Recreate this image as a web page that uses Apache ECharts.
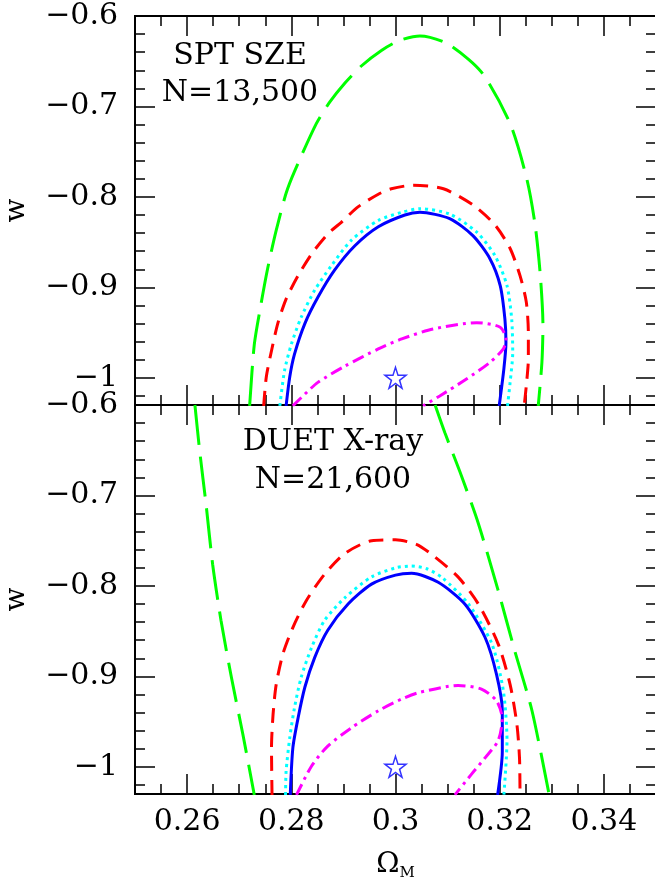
<!DOCTYPE html>
<html>
<head>
<meta charset="utf-8">
<script src="https://cdn.jsdelivr.net/npm/echarts@6/dist/echarts.min.js"></script>
<style>
html,body{margin:0;padding:0;background:#fff;}
#chart{width:655px;height:880px;}
</style>
</head>
<body>
<div id="chart"></div>
<script>
// ---------- data ----------
var xMajorTicks = [0.26, 0.28, 0.30, 0.32, 0.34];
var yMajorTicks = [-1.0, -0.9, -0.8, -0.7, -0.6];
var yMinorTicks = [-1.02, -1.0, -0.98, -0.96, -0.94, -0.92, -0.9, -0.88, -0.86, -0.84, -0.82, -0.8,
                   -0.78, -0.76, -0.74, -0.72, -0.7, -0.68, -0.66, -0.64, -0.62];
var panelTitles = [["SPT SZE", "N=13,500"], ["DUET X-ray", "N=21,600"]];
var fiducial = [0.30, -1.0];

// SPT SZE panel (top)
var sptGreen = [[0.2720,-1.031],[0.2729,-0.963],[0.2742,-0.918],[0.2755,-0.878],[0.2771,-0.837],
  [0.2790,-0.796],[0.2806,-0.772],[0.2848,-0.719],[0.2874,-0.695],[0.2903,-0.674],[0.2935,-0.655],
  [0.2973,-0.638],[0.3008,-0.627],[0.3047,-0.622],[0.3101,-0.631],[0.3165,-0.662],[0.3220,-0.719],
  [0.3252,-0.780],[0.3268,-0.831],[0.3278,-0.887],[0.3283,-0.942],[0.3281,-0.983],[0.3274,-1.031]];
var sptRed = [[0.2747,-1.031],[0.2752,-0.999],[0.2762,-0.970],[0.2774,-0.940],[0.2790,-0.913],
  [0.2813,-0.887],[0.2839,-0.863],[0.2870,-0.841],[0.2896,-0.828],[0.2928,-0.811],[0.2967,-0.797],
  [0.2992,-0.791],[0.3034,-0.787],[0.3092,-0.791],[0.3149,-0.809],[0.3191,-0.831],[0.3220,-0.857],
  [0.3239,-0.887],[0.3251,-0.916],[0.3255,-0.950],[0.3255,-0.979],[0.3251,-1.009],[0.3247,-1.031]];
var sptCyan = [[0.2778,-1.031],[0.2787,-0.992],[0.2800,-0.963],[0.2819,-0.933],[0.2845,-0.903],
  [0.2877,-0.876],[0.2915,-0.848],[0.2967,-0.826],[0.3012,-0.817],[0.3047,-0.813],[0.3104,-0.819],
  [0.3156,-0.839],[0.3191,-0.865],[0.3214,-0.898],[0.3223,-0.935],[0.3225,-0.972],[0.3220,-1.005],
  [0.3215,-1.031]];
var sptBlue = [[0.2790,-1.031],[0.2797,-0.999],[0.2806,-0.974],[0.2826,-0.940],[0.2851,-0.911],
  [0.2883,-0.881],[0.2922,-0.854],[0.2967,-0.833],[0.3018,-0.820],[0.3047,-0.817],[0.3104,-0.824],
  [0.3149,-0.843],[0.3181,-0.868],[0.3201,-0.898],[0.3210,-0.935],[0.3212,-0.961],[0.3208,-0.990],
  [0.3199,-1.031]];
var sptMagenta = [[0.2803,-1.031],[0.2826,-1.018],[0.2851,-1.005],[0.2903,-0.987],[0.2967,-0.968],
  [0.3012,-0.957],[0.3072,-0.946],[0.3156,-0.939],[0.3201,-0.944],[0.3212,-0.957],[0.3207,-0.968],
  [0.3181,-0.983],[0.3137,-1.001],[0.3085,-1.020],[0.3053,-1.031]];

// DUET X-ray panel (bottom)
var duetGreenLeft = [[0.2615,-0.600],[0.2624,-0.650],[0.2637,-0.713],[0.2649,-0.776],[0.2665,-0.838],
  [0.2685,-0.901],[0.2707,-0.964],[0.2729,-1.031]];
var duetGreenRight = [[0.3076,-0.600],[0.3095,-0.631],[0.3127,-0.679],[0.3159,-0.731],[0.3197,-0.805],
  [0.3229,-0.872],[0.3262,-0.938],[0.3295,-1.031]];
var duetRed = [[0.2763,-1.031],[0.2762,-0.979],[0.2765,-0.942],[0.2771,-0.909],[0.2784,-0.875],
  [0.2803,-0.846],[0.2829,-0.816],[0.2864,-0.787],[0.2903,-0.764],[0.2954,-0.750],[0.3000,-0.749],
  [0.3040,-0.754],[0.3069,-0.765],[0.3120,-0.790],[0.3159,-0.820],[0.3197,-0.864],[0.3220,-0.909],
  [0.3233,-0.953],[0.3238,-0.990],[0.3239,-1.031]];
var duetCyan = [[0.2789,-1.031],[0.2790,-1.005],[0.2797,-0.968],[0.2806,-0.935],[0.2819,-0.901],
  [0.2839,-0.868],[0.2864,-0.838],[0.2903,-0.813],[0.2954,-0.790],[0.3000,-0.780],[0.3030,-0.778],
  [0.3060,-0.781],[0.3090,-0.791],[0.3140,-0.820],[0.3185,-0.864],[0.3207,-0.916],[0.3214,-0.971],
  [0.3208,-1.031]];
var duetBlue = [[0.2798,-1.031],[0.2803,-0.979],[0.2813,-0.946],[0.2826,-0.912],[0.2845,-0.879],
  [0.2870,-0.849],[0.2909,-0.820],[0.2954,-0.798],[0.3000,-0.788],[0.3031,-0.786],[0.3082,-0.796],
  [0.3133,-0.820],[0.3172,-0.857],[0.3194,-0.898],[0.3205,-0.938],[0.3205,-0.983],[0.3196,-1.031]];
var duetMagenta = [[0.2810,-1.031],[0.2839,-0.999],[0.2870,-0.977],[0.2915,-0.957],[0.2967,-0.938],
  [0.3012,-0.925],[0.3044,-0.918],[0.3120,-0.910],[0.3165,-0.914],[0.3194,-0.927],[0.3205,-0.947],
  [0.3197,-0.971],[0.3172,-0.990],[0.3146,-1.008],[0.3114,-1.031]];

// ---------- chart ----------
var FONT = 'DejaVu Serif';
var X_MIN = 0.25, X_MAX = 0.35, Y_MIN = -1.03, Y_MAX = -0.6;

function fmtNum(v) {
  var s = String(Math.round(v * 100) / 100);
  return s.replace('-', '\u2212');
}

var grids = [
  {left: 135, top: 16, width: 521, height: 389},
  {left: 135, top: 405, width: 521, height: 389}
].map(function (g) {
  return Object.assign({show: true, borderColor: '#000', borderWidth: 2, backgroundColor: 'transparent',
    containLabel: false, outerBoundsMode: 'none'}, g);
});

var xAxes = [], yAxes = [];
function xAxis(gi, pos, major, labels) {
  var ax = {type: 'value', gridIndex: gi, position: pos, min: X_MIN, max: X_MAX,
    axisLine: {show: false}, splitLine: {show: false},
    axisTick: {show: true, inside: true, length: major ? 20 : 10, lineStyle: {color: '#000', width: 1.5}},
    axisLabel: {show: false}};
  if (major) {
    ax.axisTick.customValues = xMajorTicks;
    ax.axisLabel = {show: !!labels, customValues: xMajorTicks, fontFamily: FONT, fontSize: 30, color: '#000',
      margin: 13, formatter: fmtNum};
    if (labels) {
      ax.name = '{a|\u03A9}{b|M}';
      ax.nameLocation = 'middle';
      ax.nameGap = 54;
      ax.nameTextStyle = {rich: {a: {fontFamily: FONT, fontSize: 28, color: '#000'},
        b: {fontFamily: FONT, fontSize: 15, color: '#000', padding: [18, 0, 0, 0]}}};
    }
  } else {
    ax.interval = 0.005;
  }
  xAxes.push(ax);
}
function yAxis(gi, pos, major, labels) {
  var ax = {type: 'value', gridIndex: gi, position: pos, min: Y_MIN, max: Y_MAX,
    axisLine: {show: false}, splitLine: {show: false},
    axisTick: {show: true, inside: true, length: major ? 20 : 10, lineStyle: {color: '#000', width: 1.5},
      customValues: major ? yMajorTicks : yMinorTicks},
    axisLabel: {show: false}};
  if (major && labels) {
    ax.axisLabel = {show: true, customValues: yMajorTicks, fontFamily: FONT, fontSize: 30, color: '#000',
      margin: 17, formatter: fmtNum};
    ax.name = 'w';
    ax.nameLocation = 'middle';
    ax.nameGap = 104;
    ax.nameTextStyle = {fontFamily: FONT, fontSize: 28, color: '#000'};
  }
  yAxes.push(ax);
}
for (var g = 0; g < 2; g++) {
  xAxis(g, 'bottom', true, g === 1);
  xAxis(g, 'bottom', false);
  xAxis(g, 'top', true, false);
  xAxis(g, 'top', false);
  yAxis(g, 'left', true, true);
  yAxis(g, 'left', false);
  yAxis(g, 'right', true, false);
  yAxis(g, 'right', false);
}

function line(data, gi, color, dash, width) {
  return {type: 'line', xAxisIndex: gi * 4, yAxisIndex: gi * 4, data: data, smooth: 0.25,
    showSymbol: false, symbol: 'none', clip: true, animation: false, silent: true,
    lineStyle: {color: color, width: width || 3, type: dash, cap: 'butt'}, z: 3};
}
var LONG = [40, 12], SHORT = [15, 9], DOT = [3, 4], DASHDOT = [12, 5, 3, 5];
var starPath = 'path://M50,2 L61.8,37.6 L99,37.6 L69,59.6 L80.3,95.4 L50,73.4 L19.7,95.4 L31,59.6 L1,37.6 L38.2,37.6 Z';

var series = [
  line(sptGreen, 0, '#00ff00', LONG),
  line(sptRed, 0, '#ff0000', SHORT),
  line(sptCyan, 0, '#00ffff', DOT),
  line(sptBlue, 0, '#0000ff', 'solid'),
  line(sptMagenta, 0, '#ff00ff', DASHDOT),
  line(duetGreenLeft, 1, '#00ff00', LONG),
  line(duetGreenRight, 1, '#00ff00', LONG),
  line(duetRed, 1, '#ff0000', SHORT),
  line(duetCyan, 1, '#00ffff', DOT),
  line(duetBlue, 1, '#0000ff', 'solid'),
  line(duetMagenta, 1, '#ff00ff', DASHDOT)
];
[0, 1].forEach(function (gi) {
  series.push({type: 'scatter', xAxisIndex: gi * 4, yAxisIndex: gi * 4, data: [fiducial],
    symbol: starPath, symbolSize: 21, animation: false, silent: true, z: 4,
    itemStyle: {color: 'rgba(0,0,0,0)', borderColor: '#0000ff', borderWidth: 1.5}});
});

var graphics = [];
var titlePos = [[240, 56, 93], [333, 442, 480]];
panelTitles.forEach(function (t, i) {
  graphics.push({type: 'text', x: titlePos[i][0], y: titlePos[i][1],
    style: {text: t[0], font: '30px "' + FONT + '"', fill: '#000', align: 'center', verticalAlign: 'middle'}});
  graphics.push({type: 'text', x: titlePos[i][0], y: titlePos[i][2],
    style: {text: t[1], font: '30px "' + FONT + '"', fill: '#000', align: 'center', verticalAlign: 'middle'}});
});

var chart = echarts.init(document.getElementById('chart'), null, {renderer: 'canvas'});
chart.setOption({
  animation: false,
  backgroundColor: '#fff',
  grid: grids,
  xAxis: xAxes,
  yAxis: yAxes,
  series: series,
  graphic: graphics
});
</script>
</body>
</html>
